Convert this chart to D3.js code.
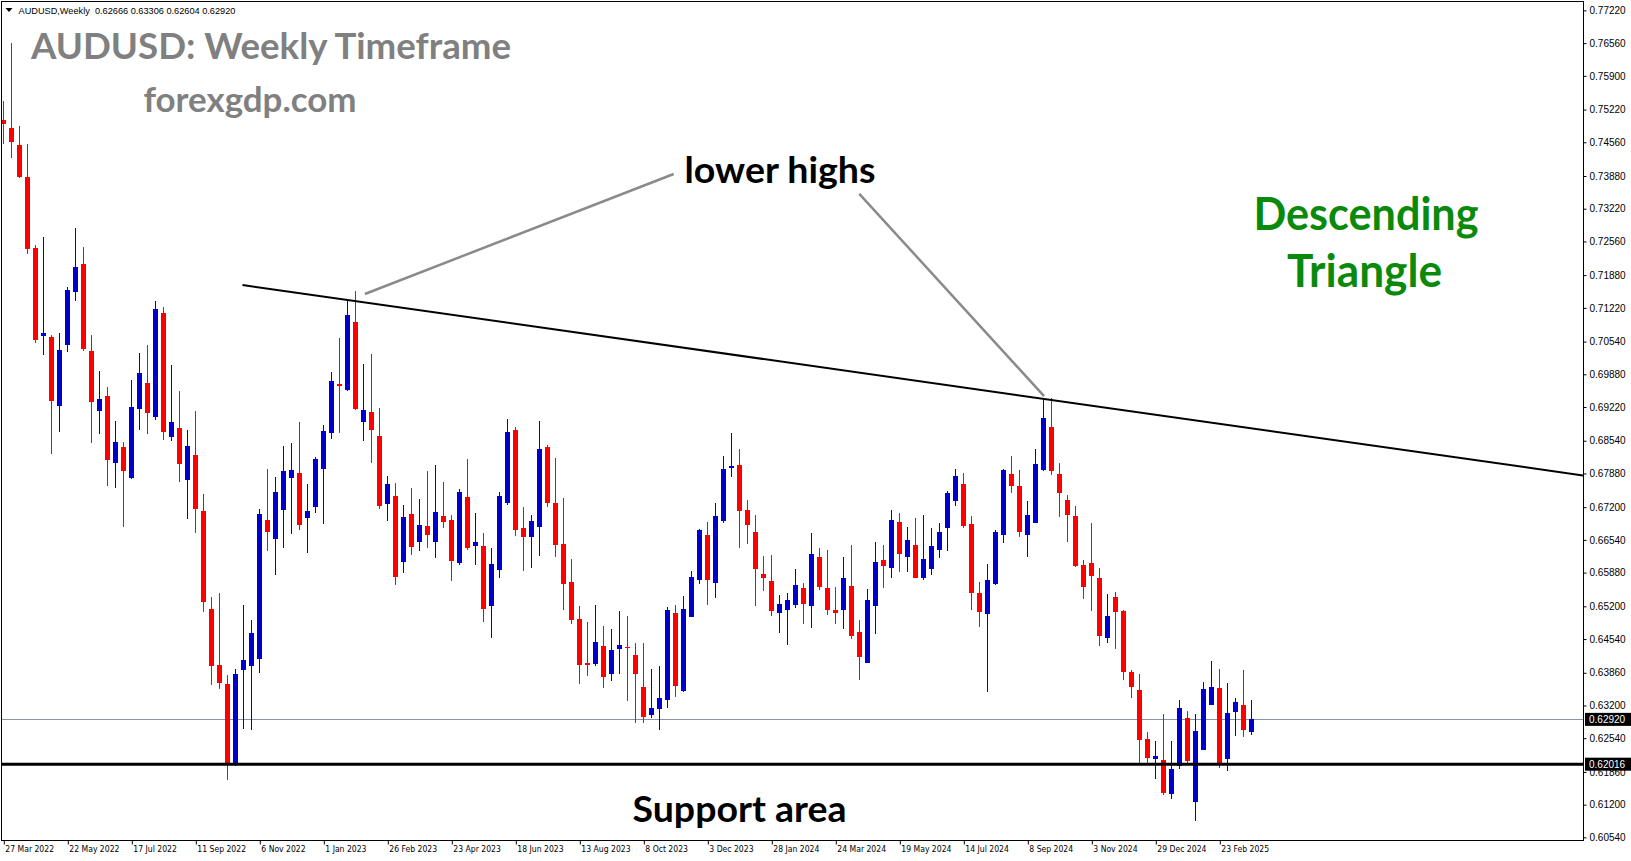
<!DOCTYPE html>
<html><head><meta charset="utf-8">
<script src="https://cdn.jsdelivr.net/npm/d3@7"></script>
<style>html,body{margin:0;padding:0;background:#fff;overflow:hidden}</style>
</head><body>
<svg id="chart" width="1631" height="861"></svg>
<script>
// ---- DATA (AUDUSD weekly, week index 0 = 27 Mar 2022) ----
const openP = [0.7500,0.7484,0.7451,0.7386,0.7243,0.7066,0.7063,0.6925,0.7047,0.7155,
 0.7211,0.7036,0.6915,0.6944,0.6810,0.6841,0.6778,0.6918,0.6970,0.6901,
 0.7111,0.6862,0.6880,0.6775,0.6825,0.6712,0.6515,0.6402,0.6363,0.6202,
 0.6392,0.6400,0.6414,0.6694,0.6656,0.6715,0.6779,0.6789,0.6699,0.6721,
 0.6798,0.6870,0.6968,0.6957,0.7094,0.6891,0.6912,0.6864,0.6727,0.6743,
 0.6610,0.6706,0.6649,0.6682,0.6649,0.6702,0.6694,0.6608,0.6741,0.6642,
 0.6641,0.6521,0.6593,0.6728,0.6876,0.6678,0.6659,0.6681,0.6841,0.6728,
 0.6646,0.6569,0.6494,0.6406,0.6404,0.6440,0.6384,0.6433,0.6438,0.6422,
 0.6357,0.6300,0.6312,0.6332,0.6507,0.6350,0.6499,0.6574,0.6664,0.6568,
 0.6693,0.6799,0.6805,0.6714,0.6670,0.6585,0.6571,0.6507,0.6513,0.6523,
 0.6557,0.6521,0.6620,0.6557,0.6513,0.6513,0.6561,0.6468,0.6406,0.6521,
 0.6614,0.6598,0.6690,0.6620,0.6644,0.6578,0.6596,0.6634,0.6679,0.6733,
 0.6767,0.6686,0.6547,0.6505,0.6565,0.6663,0.6787,0.6763,0.6663,0.6689,
 0.6794,0.6882,0.6787,0.6735,0.6702,0.6603,0.6607,0.6577,0.6457,0.6539,
 0.6511,0.6388,0.6351,0.6252,0.6212,0.6210,0.6142,0.6197,0.6295,0.6126,
 0.6231,0.6322,0.6355,0.6213,0.6306,0.6321,0.62666];
const highP = [0.7539,0.7656,0.7489,0.7453,0.7248,0.7264,0.7068,0.7072,0.7164,0.7283,
 0.7245,0.7067,0.6995,0.6962,0.6894,0.6852,0.6977,0.7031,0.7047,0.7135,
 0.7123,0.7007,0.6954,0.6876,0.6914,0.6746,0.6539,0.6547,0.6381,0.6393,
 0.6523,0.6492,0.6716,0.6797,0.6781,0.6843,0.6850,0.6892,0.6767,0.6822,
 0.6886,0.6992,0.7061,0.7135,0.7156,0.7009,0.7029,0.6920,0.6783,0.6769,
 0.6724,0.6758,0.6736,0.6793,0.6805,0.6771,0.6704,0.6757,0.6817,0.6708,
 0.6668,0.6638,0.6751,0.6898,0.6882,0.6721,0.6704,0.6894,0.6845,0.6819,
 0.6739,0.6616,0.6521,0.6488,0.6523,0.6480,0.6474,0.6511,0.6501,0.6446,
 0.6446,0.6394,0.6400,0.6519,0.6523,0.6541,0.6591,0.6676,0.6690,0.6728,
 0.6823,0.6870,0.6837,0.6735,0.6704,0.6622,0.6624,0.6542,0.6546,0.6596,
 0.6568,0.6668,0.6638,0.6634,0.6559,0.6620,0.6644,0.6493,0.6555,0.6650,
 0.6644,0.6714,0.6708,0.6680,0.6698,0.6704,0.6678,0.6688,0.6753,0.6797,
 0.6789,0.6702,0.6570,0.6606,0.6673,0.6798,0.6823,0.6795,0.6733,0.6837,
 0.6938,0.6940,0.6809,0.6745,0.6722,0.6613,0.6688,0.6597,0.6545,0.6549,
 0.6513,0.6392,0.6384,0.6267,0.6248,0.6303,0.6248,0.6331,0.6309,0.6303,
 0.6367,0.6410,0.6394,0.6365,0.6335,0.6392,0.63306];
const lowP = [0.7453,0.7424,0.7384,0.7231,0.7052,0.7027,0.6827,0.6871,0.7032,0.7136,
 0.7035,0.6849,0.6867,0.6762,0.6759,0.6681,0.6777,0.6876,0.6868,0.6895,
 0.6856,0.6853,0.6770,0.6696,0.6668,0.6509,0.6362,0.6354,0.6170,0.6198,
 0.6273,0.6271,0.6386,0.6632,0.6583,0.6637,0.6666,0.6673,0.6628,0.6709,
 0.6687,0.6858,0.6870,0.6955,0.6917,0.6854,0.6810,0.6717,0.6692,0.6564,
 0.6588,0.6624,0.6632,0.6637,0.6618,0.6677,0.6571,0.6604,0.6634,0.6604,
 0.6489,0.6457,0.6577,0.6724,0.6661,0.6591,0.6597,0.6622,0.6720,0.6620,
 0.6513,0.6485,0.6363,0.6380,0.6400,0.6355,0.6370,0.6384,0.6329,0.6285,
 0.6285,0.6295,0.6270,0.6314,0.6338,0.6348,0.6499,0.6566,0.6523,0.6536,
 0.6689,0.6780,0.6638,0.6646,0.6521,0.6550,0.6501,0.6467,0.6443,0.6517,
 0.6485,0.6477,0.6552,0.6503,0.6485,0.6475,0.6455,0.6372,0.6405,0.6465,
 0.6556,0.6578,0.6590,0.6590,0.6578,0.6574,0.6584,0.6618,0.6632,0.6723,
 0.6679,0.6513,0.6479,0.6348,0.6563,0.6648,0.6749,0.6659,0.6620,0.6688,
 0.6792,0.6784,0.6701,0.6650,0.6600,0.6535,0.6511,0.6441,0.6447,0.6433,
 0.6372,0.6336,0.6203,0.6203,0.6172,0.6140,0.6132,0.6191,0.6205,0.6088,
 0.6230,0.6321,0.6193,0.6187,0.6259,0.6257,0.62604];
const closeP = [0.7492,0.7457,0.7386,0.7240,0.7058,0.7072,0.6934,0.7038,0.7158,0.7204,
 0.7040,0.6933,0.6938,0.6816,0.6852,0.6792,0.6922,0.6991,0.6909,0.7120,
 0.6872,0.6892,0.6808,0.6843,0.6717,0.6529,0.6400,0.6366,0.6202,0.6383,
 0.6412,0.6466,0.6706,0.6670,0.6750,0.6793,0.6795,0.6685,0.6712,0.6817,
 0.6874,0.6975,0.6965,0.7108,0.6918,0.6916,0.6876,0.6723,0.6767,0.6580,
 0.6700,0.6640,0.6684,0.6663,0.6710,0.6691,0.6612,0.6750,0.6637,0.6650,
 0.6515,0.6605,0.6743,0.6872,0.6674,0.6659,0.6692,0.6837,0.6728,0.6644,
 0.6566,0.6492,0.6402,0.6402,0.6448,0.6378,0.6432,0.6442,0.6435,0.6384,
 0.6296,0.6315,0.6335,0.6513,0.6360,0.6515,0.6579,0.6674,0.6574,0.6702,
 0.6797,0.6803,0.6713,0.6685,0.6596,0.6578,0.6511,0.6525,0.6533,0.6563,
 0.6525,0.6626,0.6558,0.6513,0.6507,0.6577,0.6461,0.6417,0.6533,0.6609,
 0.6602,0.6694,0.6626,0.6654,0.6578,0.6616,0.6642,0.6670,0.6749,0.6783,
 0.6683,0.6546,0.6509,0.6573,0.6670,0.6796,0.6763,0.6669,0.6704,0.6807,
 0.6900,0.6792,0.6749,0.6705,0.6602,0.6558,0.6582,0.6461,0.6501,0.6509,
 0.6388,0.6358,0.6250,0.6215,0.6218,0.6144,0.6192,0.6315,0.6208,0.6269,
 0.6353,0.6357,0.6203,0.6305,0.6327,0.6271,0.62920];

const dateTickIdx = [0,8,16,24,32,40,48,56,64,72,80,88,96,104,112,120,128,136,144,152];
const dateTickLabels = ["27 Mar 2022","22 May 2022","17 Jul 2022","11 Sep 2022","6 Nov 2022",
 "1 Jan 2023","26 Feb 2023","23 Apr 2023","18 Jun 2023","13 Aug 2023","8 Oct 2023",
 "3 Dec 2023","28 Jan 2024","24 Mar 2024","19 May 2024","14 Jul 2024","8 Sep 2024",
 "3 Nov 2024","29 Dec 2024","23 Feb 2025"];
const priceTicks = [0.77220,0.76560,0.75900,0.75220,0.74560,0.73880,0.73220,0.72560,0.71880,
 0.71220,0.70540,0.69880,0.69220,0.68540,0.67880,0.67200,0.66540,0.65880,0.65200,0.64540,
 0.63860,0.63200,0.62540,0.61860,0.61200,0.60540];
const currentPrice = 0.62920;
const supportPrice = 0.62016;
const trendLine = [{i:29.9, p:0.7168},{i:197.5, p:0.6784}];
const pointerLines = [
  [{i:45.2, p:0.7150},{i:83.8, p:0.7392}],
  [{i:107.0, p:0.7352},{i:130.1, p:0.6944}]
];
const headerText = "AUDUSD,Weekly  0.62666 0.63306 0.62604 0.62920";

// ---- LAYOUT ----
const W = 1631, H = 861;
const plot = {left:2, top:2, right:1583, bottom:840};
const x = d3.scaleLinear().domain([-0.1625, 197.4625]).range([plot.left, plot.right]);
const y = d3.scaleLinear().domain([0.60487, 0.773895]).range([plot.bottom, plot.top]);

const svg = d3.select('#chart').style('font-family','"Liberation Sans", Arial, sans-serif');
svg.append('rect').attr('width',W).attr('height',H).attr('fill','#fff');
svg.append('defs').append('clipPath').attr('id','pc').append('rect')
  .attr('x',plot.left).attr('y',plot.top)
  .attr('width',plot.right-plot.left).attr('height',plot.bottom-plot.top);
const g = svg.append('g').attr('clip-path','url(#pc)');

// current price line
g.append('line').attr('x1',plot.left).attr('x2',plot.right)
  .attr('y1',Math.round(y(currentPrice))+0.5).attr('y2',Math.round(y(currentPrice))+0.5)
  .attr('stroke','#8795a4').attr('stroke-width',1);

// candles
const candles = openP.map((o,i)=>({i,o,h:highP[i],l:lowP[i],c:closeP[i]}));
const up = '#0000cd', dn = '#ff0000';
const cg = g.append('g').attr('shape-rendering','crispEdges');
cg.selectAll('line.wick').data(candles).join('line').attr('class','wick')
  .attr('x1',d=>Math.round(x(d.i))+0.5).attr('x2',d=>Math.round(x(d.i))+0.5)
  .attr('y1',d=>y(d.h)).attr('y2',d=>y(d.l))
  .attr('stroke',d=>d.c>=d.o?up:dn).attr('stroke-width',1);
cg.selectAll('rect.body').data(candles).join('rect').attr('class','body')
  .attr('x',d=>Math.round(x(d.i))-2).attr('width',5)
  .attr('y',d=>y(Math.max(d.o,d.c)))
  .attr('height',d=>Math.max(1.5, y(Math.min(d.o,d.c))-y(Math.max(d.o,d.c))))
  .attr('fill',d=>d.c>=d.o?up:dn);

// support line
g.append('line').attr('x1',plot.left).attr('x2',plot.right)
  .attr('y1',y(supportPrice)).attr('y2',y(supportPrice))
  .attr('stroke','#000').attr('stroke-width',3);

// descending trend line
g.append('line')
  .attr('x1',x(trendLine[0].i)).attr('y1',y(trendLine[0].p))
  .attr('x2',x(trendLine[1].i)).attr('y2',y(trendLine[1].p))
  .attr('stroke','#000').attr('stroke-width',2);

// pointer lines
pointerLines.forEach(pl=>{
  g.append('line')
    .attr('x1',x(pl[0].i)).attr('y1',y(pl[0].p))
    .attr('x2',x(pl[1].i)).attr('y2',y(pl[1].p))
    .attr('stroke','#8a8a8a').attr('stroke-width',2.5);
});

// frame
svg.append('rect').attr('x',plot.left-0.5).attr('y',plot.top-0.5)
  .attr('width',plot.right-plot.left+1).attr('height',plot.bottom-plot.top+1)
  .attr('fill','none').attr('stroke','#000').attr('stroke-width',1);

// right price axis
const ya = svg.append('g').attr('transform',`translate(${plot.right+0.5},0)`)
  .call(d3.axisRight(y).tickValues(priceTicks).tickFormat(d3.format('.5f')).tickSize(3).tickSizeOuter(0));
ya.select('.domain').remove();
ya.selectAll('line').attr('stroke','#000');
ya.selectAll('text').attr('font-size',10).attr('fill','#000').attr('x',6)
  .attr('font-family','"Liberation Sans", Arial, sans-serif');

// price boxes
[[currentPrice,'0.62920'],[supportPrice,'0.62016']].forEach(([p,t])=>{
  const yy = y(p);
  svg.append('rect').attr('x',plot.right+2).attr('y',yy-6.5).attr('width',46).attr('height',13).attr('fill','#000');
  svg.append('text').attr('x',plot.right+6).attr('y',yy).attr('dy','0.35em')
    .attr('font-size',10).attr('fill','#fff').text(t);
});

// bottom date axis
const xa = svg.append('g').attr('transform',`translate(0,${plot.bottom+0.5})`)
  .call(d3.axisBottom(x).tickValues(dateTickIdx).tickFormat((d,k)=>dateTickLabels[k]).tickSize(4).tickSizeOuter(0));
xa.select('.domain').remove();
xa.selectAll('line').attr('stroke','#000').attr('transform','translate(0.5,0)');
xa.selectAll('text').attr('text-anchor','start').attr('dx',1.5).attr('y',5)
  .attr('font-size',9.5).attr('fill','#000')
  .attr('font-family','"DejaVu Sans Condensed", "DejaVu Sans", sans-serif')
  .attr('font-stretch','condensed')
  .attr('textLength',function(){ return this.getComputedTextLength()*0.9; })
  .attr('lengthAdjust','spacingAndGlyphs');

// header
svg.append('path').attr('d','M5.5,8 L12.5,8 L9,12 Z').attr('fill','#000');
svg.append('text').attr('x',18.5).attr('y',14).attr('font-size',9.2).attr('fill','#000')
  .attr('xml:space','preserve').style('white-space','pre').text(headerText);

// annotation texts
function label(txt, xPos, yBase, size, color, len, anchor){
  svg.append('text').attr('x',xPos).attr('y',yBase).attr('font-size',size)
    .attr('font-family','Lato, "Open Sans", sans-serif').attr('font-weight',700)
    .attr('fill',color).attr('text-anchor',anchor||'start')
    .attr('textLength',len).attr('lengthAdjust','spacingAndGlyphs').text(txt);
}
label('AUDUSD: Weekly Timeframe', 31, 59, 37, '#808080', 480);
label('forexgdp.com', 143.5, 112, 35, '#808080', 213);
label('lower highs', 684.5, 183, 37, '#000', 191);
label('Descending', 1253.5, 230, 46, '#0a8a0a', 225);
label('Triangle', 1287, 287, 46, '#0a8a0a', 155);
label('Support area', 632.5, 822, 37, '#000', 214);
</script>
</body></html>
